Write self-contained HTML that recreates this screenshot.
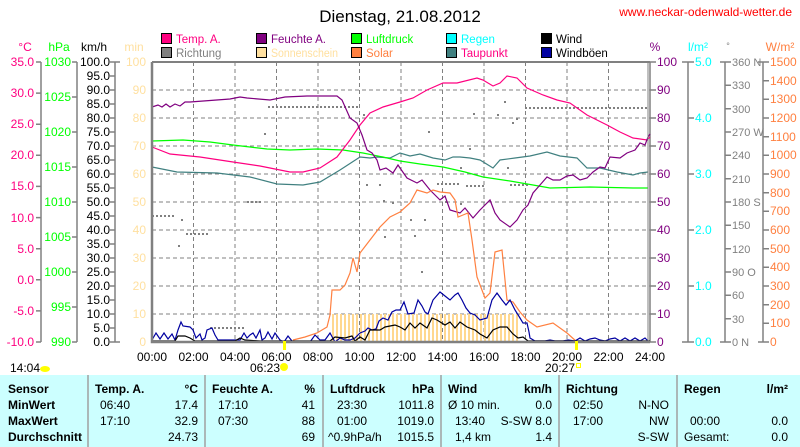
<!DOCTYPE html>
<html><head><meta charset="utf-8"><style>
html,body{margin:0;padding:0;background:#fff;}
svg{display:block;font-family:"Liberation Sans",sans-serif;}
</style></head><body>
<svg width="800" height="447" viewBox="0 0 800 447" xmlns="http://www.w3.org/2000/svg">
<rect width="800" height="447" fill="#fff"/>
<text x="400" y="22" font-size="17" text-anchor="middle" fill="#000">Dienstag, 21.08.2012</text>
<text x="792" y="16" font-size="12" text-anchor="end" fill="#ff0000">www.neckar-odenwald-wetter.de</text>

<!-- legend -->
<g font-size="11.5" stroke="none">
<rect x="161.5" y="33.5" width="10" height="10" fill="#ff0080" stroke="#000"/><text x="176" y="43" fill="#ff0080">Temp. A.</text>
<rect x="161.5" y="47.5" width="10" height="10" fill="#808080" stroke="#000"/><text x="176" y="57" fill="#808080">Richtung</text>
<rect x="256.5" y="33.5" width="10" height="10" fill="#800080" stroke="#000"/><text x="271" y="43" fill="#800080">Feuchte A.</text>
<rect x="256.5" y="47.5" width="10" height="10" fill="#ffe0a0" stroke="#000"/><text x="271" y="57" fill="#ffe0a0" textLength="67" lengthAdjust="spacingAndGlyphs">Sonnenschein</text>
<rect x="351.5" y="33.5" width="10" height="10" fill="#00ff00" stroke="#000"/><text x="366" y="43" fill="#00ff00">Luftdruck</text>
<rect x="351.5" y="47.5" width="10" height="10" fill="#ff8040" stroke="#000"/><text x="366" y="57" fill="#ff8040">Solar</text>
<rect x="446.5" y="33.5" width="10" height="10" fill="#00ffff" stroke="#000"/><text x="461" y="43" fill="#00ffff">Regen</text>
<rect x="446.5" y="47.5" width="10" height="10" fill="#408080" stroke="#000"/><text x="461" y="57" fill="#ff0080">Taupunkt</text>
<rect x="541.5" y="33.5" width="10" height="10" fill="#000" stroke="#000"/><text x="556" y="43" fill="#000">Wind</text>
<rect x="541.5" y="47.5" width="10" height="10" fill="#0000a0" stroke="#000"/><text x="556" y="57" fill="#000">Windböen</text>
</g>

<!-- axis titles -->
<g font-size="12">
<text x="25" y="51" text-anchor="middle" fill="#ff0080">°C</text>
<text x="59" y="51" text-anchor="middle" fill="#00ff00">hPa</text>
<text x="94" y="51" text-anchor="middle" fill="#000">km/h</text>
<text x="134" y="51" text-anchor="middle" fill="#ffe0a0">min</text>
<text x="655" y="51" text-anchor="middle" fill="#800080">%</text>
<text x="698" y="51" text-anchor="middle" fill="#00ffff">l/m²</text>
<text x="728" y="49" text-anchor="middle" fill="#808080" font-size="9">°</text>
<text x="780" y="51" text-anchor="middle" fill="#ff8040">W/m²</text>
</g>

<g stroke="#808080" stroke-width="1.5" fill="none">
<line x1="41" y1="62" x2="41" y2="342"/>
<line x1="77" y1="62" x2="77" y2="342"/>
<line x1="115" y1="62" x2="115" y2="342"/>
<line x1="650" y1="62" x2="650" y2="342"/>
<line x1="688" y1="62" x2="688" y2="342"/>
<line x1="725" y1="62" x2="725" y2="342"/>
<line x1="763" y1="62" x2="763" y2="342"/>
</g>
<g font-size="12" fill="#ff0080" text-anchor="end">
<text x="34" y="66">35.0</text><text x="34" y="97">30.0</text><text x="34" y="128">25.0</text><text x="34" y="159">20.0</text><text x="34" y="190">15.0</text><text x="34" y="222">10.0</text><text x="34" y="253">5.0</text><text x="34" y="284">0.0</text><text x="34" y="315">-5.0</text><text x="34" y="346">-10.0</text>
</g>
<g stroke="#808080" stroke-width="1.5">
<path d="M36 62H41M36 93.1H41M36 124.2H41M36 155.3H41M36 186.4H41M36 217.6H41M36 248.7H41M36 279.8H41M36 310.9H41M36 342H41"/>
<path d="M72 62H77M72 97H77M72 132H77M72 167H77M72 202H77M72 237H77M72 272H77M72 307H77M72 342H77"/>
<path d="M110 62H120M110 76H115M110 90H115M110 104H115M110 118H115M110 132H115M110 146H115M110 160H115M110 174H115M110 188H115M110 202H115M110 216H115M110 230H115M110 244H115M110 258H115M110 272H115M110 286H115M110 300H115M110 314H115M110 328H115M110 342H120"/>
<path d="M650 62H656M650 90H656M650 118H656M650 146H656M650 174H656M650 202H656M650 230H656M650 258H656M650 286H656M650 314H656M650 342H656"/>
<path d="M682 62H694M688 118H694M688 174H694M688 230H694M688 286H694M682 342H694"/>
<path d="M720 62H731M725 85.3H731M725 108.7H731M725 132H731M725 155.3H731M725 178.7H731M725 202H731M725 225.3H731M725 248.7H731M725 272H731M725 295.3H731M725 318.7H731M720 342H731"/>
<path d="M758 62H769M763 80.7H769M763 99.3H769M763 118H769M763 136.7H769M763 155.3H769M763 174H769M763 192.7H769M763 211.3H769M763 230H769M763 248.7H769M763 267.3H769M763 286H769M763 304.7H769M763 323.3H769M758 342H769"/>
</g>
<g font-size="12" fill="#00ff00" text-anchor="end">
<text x="71" y="66">1030</text><text x="71" y="101">1025</text><text x="71" y="136">1020</text><text x="71" y="171">1015</text><text x="71" y="206">1010</text><text x="71" y="241">1005</text><text x="71" y="276">1000</text><text x="71" y="311">995</text><text x="71" y="346">990</text>
</g>
<g font-size="12" fill="#000" text-anchor="end">
<text x="110" y="66">100.0</text><text x="110" y="80">95.0</text><text x="110" y="94">90.0</text><text x="110" y="108">85.0</text><text x="110" y="122">80.0</text><text x="110" y="136">75.0</text><text x="110" y="150">70.0</text><text x="110" y="164">65.0</text><text x="110" y="178">60.0</text><text x="110" y="192">55.0</text><text x="110" y="206">50.0</text><text x="110" y="220">45.0</text><text x="110" y="234">40.0</text><text x="110" y="248">35.0</text><text x="110" y="262">30.0</text><text x="110" y="276">25.0</text><text x="110" y="290">20.0</text><text x="110" y="304">15.0</text><text x="110" y="318">10.0</text><text x="110" y="332">5.0</text><text x="110" y="346">0.0</text>
</g>
<g font-size="12" fill="#ffe0a0" text-anchor="end">
<text x="146" y="66">100</text><text x="146" y="94">90</text><text x="146" y="122">80</text><text x="146" y="150">70</text><text x="146" y="178">60</text><text x="146" y="206">50</text><text x="146" y="234">40</text><text x="146" y="262">30</text><text x="146" y="290">20</text><text x="146" y="318">10</text><text x="146" y="346">0</text>
</g>
<g font-size="12" fill="#800080">
<text x="657" y="66">100</text><text x="657" y="94">90</text><text x="657" y="122">80</text><text x="657" y="150">70</text><text x="657" y="178">60</text><text x="657" y="206">50</text><text x="657" y="234">40</text><text x="657" y="262">30</text><text x="657" y="290">20</text><text x="657" y="318">10</text><text x="657" y="346">0</text>
</g>
<g font-size="12" fill="#00ffff">
<text x="695" y="66">5.0</text><text x="695" y="122">4.0</text><text x="695" y="178">3.0</text><text x="695" y="234">2.0</text><text x="695" y="290">1.0</text><text x="695" y="346">0.0</text>
</g>
<g font-size="11" fill="#808080" xml:space="preserve">
<text x="732" y="66">360 N</text><text x="732" y="89">330</text><text x="732" y="113">300</text><text x="732" y="136">270 W</text><text x="732" y="159">240</text><text x="732" y="183">210</text><text x="732" y="206">180 S</text><text x="732" y="229">150</text><text x="732" y="253">120</text><text x="732" y="276">90  O</text><text x="732" y="299">60</text><text x="732" y="323">30</text><text x="732" y="346">0    N</text>
</g>
<g font-size="12" fill="#ff8040">
<text x="770" y="66">1500</text><text x="770" y="85">1400</text><text x="770" y="103">1300</text><text x="770" y="122">1200</text><text x="770" y="141">1100</text><text x="770" y="159">1000</text><text x="770" y="178">900</text><text x="770" y="197">800</text><text x="770" y="215">700</text><text x="770" y="234">600</text><text x="770" y="253">500</text><text x="770" y="271">400</text><text x="770" y="290">300</text><text x="770" y="309">200</text><text x="770" y="327">100</text><text x="770" y="346">0</text>
</g>

<g stroke="#808080" stroke-width="1" stroke-dasharray="4,3" fill="none">
<path d="M193.5 62V342M235 62V342M276.5 62V342M318 62V342M359.5 62V342M401 62V342M442.5 62V342M484 62V342M525.5 62V342M567 62V342M608.5 62V342"/>
<path d="M152 90H650M152 118H650M152 146H650M152 174H650M152 202H650M152 230H650M152 258H650M152 286H650M152 314H650"/>
</g>

<g stroke="#ffd890" stroke-width="2">
<path d="M333 314V341M337 314V341M341 314V341M345 314V341M349 314V341M353 314V341M357 314V341M361 314V341M365 314V341M369 314V341M373 314V341M377 314V341M381 314V341M385 314V341M389 314V341M393 314V341M397 314V341M401 314V341M405 314V341M409 314V341M413 314V341M417 314V341M421 314V341M425 314V341M429 314V341M433 314V341M437 314V341M441 314V341M445 314V341M449 314V341M453 314V341M457 314V341M461 314V341M465 314V341M469 314V341M473 314V341M477 314V341M481 314V341M485 314V341M489 314V341M493 314V341M497 314V341M501 314V341M505 314V341M509 314V341M513 314V341M517 314V341"/>
</g>

<g stroke="#808080" stroke-width="2" stroke-dasharray="2,2" fill="none">
<path d="M268 107H358M525 108H648M152 216H175M186 234H210M247 202H262M210 328H246M437 184H460M466 186H484M510 185H530"/>
</g>
<g fill="#808080">
<rect x="264" y="133" width="2" height="2"/><rect x="178" y="245" width="2" height="2"/><rect x="181" y="219" width="2" height="2"/><rect x="363" y="114" width="2" height="2"/><rect x="366" y="184" width="2" height="2"/><rect x="379" y="184" width="2" height="2"/><rect x="383" y="200" width="2" height="2"/><rect x="384" y="236" width="2" height="2"/><rect x="392" y="202" width="2" height="2"/><rect x="428" y="131" width="2" height="2"/><rect x="473" y="113" width="2" height="2"/><rect x="497" y="114" width="2" height="2"/><rect x="504" y="101" width="2" height="2"/><rect x="516" y="118" width="2" height="2"/><rect x="512" y="122" width="2" height="2"/><rect x="469" y="148" width="2" height="2"/><rect x="460" y="167" width="2" height="2"/><rect x="507" y="167" width="2" height="2"/><rect x="410" y="219" width="2" height="2"/><rect x="424" y="219" width="2" height="2"/><rect x="414" y="235" width="2" height="2"/><rect x="421" y="271" width="2" height="2"/><rect x="445" y="201" width="2" height="2"/><rect x="460" y="203" width="2" height="2"/></g>

<g fill="none" stroke-width="1.2">
<polyline stroke="#408080" points="152,167 177,172 217,173 250,177 277,184 303,185 320,182 340,170 360,157 370,158 377,157 390,158 400,153 410,156 420,154 433,158 445,160 453,157 460,157 470,158 480,160 493,168 500,160 515,158 530,156 547,152 560,156 577,158 587,168 600,168 617,172 633,175 640,173 648,172"/>
<polyline stroke="#00ff00" points="152,141 183,140 210,142 233,145 267,149 290,150 317,149 343,150 363,153 383,157 400,161 420,164 443,167 465,172 483,177 510,181 533,185 550,188 590,187 633,188 648,188"/>
<polyline stroke="#ff0080" points="152,147 170,154 200,157 233,162 260,166 290,172 303,172 320,168 337,157 350,140 360,125 370,113 383,107 400,102 413,98 427,90 443,83 457,83 477,78 483,80 493,86 500,83 507,76 517,78 527,88 543,95 557,100 570,103 587,115 607,125 620,132 633,138 647,140 650,137"/>
<polyline stroke="#800080" points="152,107 158,105 162,107 166,104 170,107 175,104 180,106 185,102 190,102 230,99 240,97 247,98 270,100 285,97 307,96 337,96 342,100 350,118 357,123 362,135 367,150 372,153 377,160 380,170 386,168 393,173 398,165 400,168 407,178 417,183 422,180 430,190 440,200 445,196 450,210 460,213 465,208 473,218 480,210 490,200 495,213 500,220 510,227 517,220 523,210 528,205 533,193 540,185 547,177 553,180 560,180 567,176 573,175 580,180 587,178 593,172 600,167 605,168 610,157 620,158 627,153 635,150 640,143 645,145 648,137 650,134"/>
<polyline stroke="#ff8040" points="293,340 305,337 317,333 327,327 330,315 332,290 340,290 345,285 350,273 353,258 357,272 360,253 370,240 380,227 390,217 400,212 410,203 417,190 427,193 433,190 440,192 450,193 455,200 458,217 463,215 468,213 472,240 477,277 485,298 490,293 495,252 502,250 505,280 507,300 513,302 520,312 527,320 537,327 553,323 567,333 577,342"/>
<polyline stroke="#0000a0" points="152,340 156,333 160,339 164,333 168,339 172,334 175,340 178,330 181,322 183,326 190,327 193,330 196,338 200,334 202,340 205,338 207,330 212,328 215,335 218,340 223,340 232,340 235,340 240,340 244,333 247,338 250,335 253,333 256,338 260,330 262,340 265,338 268,332 272,339 275,333 280,340 284,342 288,336 292,341 300,342 310,342 315,335 320,340 325,340 330,333 335,342 340,338 345,340 350,340 355,338 360,333 365,331 368,328 372,330 376,329 379,321 383,318 388,320 392,312 396,310 400,310 404,302 408,314 414,313 418,300 422,306 425,312 428,314 433,300 440,292 445,296 450,300 455,295 458,293 462,300 466,308 470,313 475,315 480,320 487,318 492,300 497,293 502,300 506,305 510,300 515,310 520,318 523,323 527,323 529,332 530,338 535,341 545,341 550,340 555,341 563,341 568,340 575,341 580,338 585,341 590,339 595,338 600,340 605,341 610,339 615,338 620,341 625,338 630,341 635,338 640,341 645,338 648,341"/>
<polyline stroke="#000" points="152,341 175,341 178,336 185,336 190,338 195,341 235,341 240,338 245,340 260,341 330,341 335,337 345,338 352,336 355,341 360,337 365,340 370,330 380,330 385,327 395,325 400,327 405,330 410,323 415,328 420,323 427,328 432,318 437,320 445,325 450,322 455,328 460,322 467,327 475,330 480,334 487,338 493,330 500,327 507,327 513,334 518,338 523,337 528,341 650,341"/>
</g>

<g fill="none" stroke="#808080">
<path d="M152 62V342H650" stroke-width="2.5"/>
<path d="M152 62H650" stroke-width="2"/>
<path d="M648 62V342" stroke-width="1"/>
</g>

<rect x="283" y="341" width="3" height="9" fill="#ffff00"/>
<rect x="575" y="341" width="3" height="9" fill="#ffff00"/>

<g font-size="12" fill="#000" text-anchor="middle">
<text x="152" y="361">00:00</text><text x="193.5" y="361">02:00</text><text x="235" y="361">04:00</text><text x="276.5" y="361">06:00</text><text x="318" y="361">08:00</text><text x="359.5" y="361">10:00</text><text x="401" y="361">12:00</text><text x="442.5" y="361">14:00</text><text x="484" y="361">16:00</text><text x="525.5" y="361">18:00</text><text x="567" y="361">20:00</text><text x="608.5" y="361">22:00</text><text x="650" y="361">24:00</text>
<text x="265" y="372">06:23</text>
<text x="560" y="372">20:27</text>
</g>
<text x="10" y="372" font-size="12" fill="#000">14:04</text>
<ellipse cx="45" cy="369" rx="5" ry="3" fill="#ffff00"/>
<circle cx="284" cy="367" r="4" fill="#ffff00"/>
<rect x="576.5" y="363.5" width="4" height="4" fill="none" stroke="#ffff00"/>

<rect x="0" y="375" width="800" height="72" fill="#ccffff"/>
<g stroke="#a0a0a0" stroke-width="1.5">
<path d="M88 375V447M205 375V447M323 375V447M441 375V447M559 375V447M677 375V447"/>
</g>
<g font-size="12" fill="#000">
<g font-weight="bold">
<text x="8" y="393">Sensor</text><text x="8" y="409">MinWert</text><text x="8" y="425">MaxWert</text><text x="8" y="441">Durchschnitt</text>
<text x="95" y="393">Temp. A.</text><text x="198" y="393" text-anchor="end">°C</text>
<text x="212" y="393">Feuchte A.</text><text x="315" y="393" text-anchor="end">%</text>
<text x="330" y="393">Luftdruck</text><text x="434" y="393" text-anchor="end">hPa</text>
<text x="448" y="393">Wind</text><text x="552" y="393" text-anchor="end">km/h</text>
<text x="566" y="393">Richtung</text>
<text x="684" y="393">Regen</text><text x="788" y="393" text-anchor="end">l/m²</text>
</g>
<text x="100" y="409">06:40</text><text x="198" y="409" text-anchor="end">17.4</text>
<text x="100" y="425">17:10</text><text x="198" y="425" text-anchor="end">32.9</text>
<text x="198" y="441" text-anchor="end">24.73</text>
<text x="218" y="409">17:10</text><text x="315" y="409" text-anchor="end">41</text>
<text x="218" y="425">07:30</text><text x="315" y="425" text-anchor="end">88</text>
<text x="315" y="441" text-anchor="end">69</text>
<text x="337" y="409">23:30</text><text x="434" y="409" text-anchor="end">1011.8</text>
<text x="337" y="425">01:00</text><text x="434" y="425" text-anchor="end">1019.0</text>
<text x="328" y="441">^0.9hPa/h</text><text x="434" y="441" text-anchor="end">1015.5</text>
<text x="448" y="409">Ø 10 min.</text><text x="552" y="409" text-anchor="end">0.0</text>
<text x="455" y="425">13:40</text><text x="552" y="425" text-anchor="end">S-SW 8.0</text>
<text x="455" y="441">1,4 km</text><text x="552" y="441" text-anchor="end">1.4</text>
<text x="573" y="409">02:50</text><text x="669" y="409" text-anchor="end">N-NO</text>
<text x="573" y="425">17:00</text><text x="669" y="425" text-anchor="end">NW</text>
<text x="669" y="441" text-anchor="end">S-SW</text>
<text x="690" y="425">00:00</text><text x="788" y="425" text-anchor="end">0.0</text>
<text x="684" y="441">Gesamt:</text><text x="788" y="441" text-anchor="end">0.0</text>
</g>
</svg>
</body></html>
